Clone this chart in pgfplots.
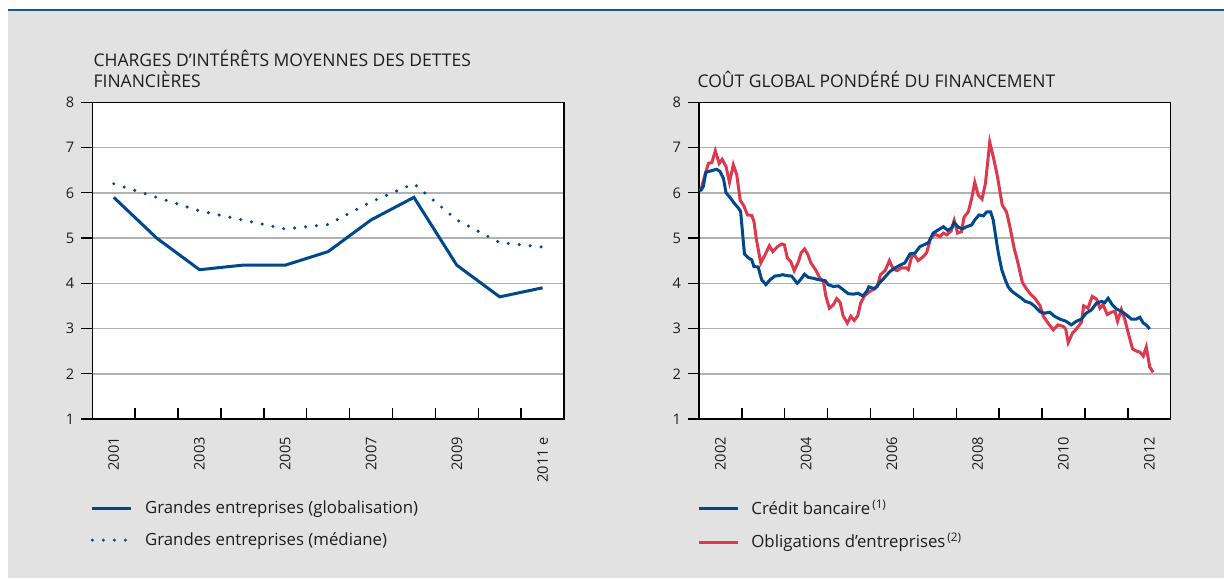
\documentclass[border=0pt]{standalone}
\usepackage{fontspec}
\setmainfont{Open Sans}
\usepackage{pgfplots}
\pgfplotsset{compat=1.18}
\usepackage{pgfplotstable}

\definecolor{bgray}{RGB}{226,226,226}
\definecolor{rulec}{RGB}{28,84,148}
\definecolor{navy}{RGB}{0,72,140}
\definecolor{crim}{RGB}{222,56,76}
\definecolor{gridc}{RGB}{178,178,178}
\definecolor{txt}{RGB}{30,30,30}

\newcommand\tickfont{\fontsize{7.3}{8}\selectfont}
\newcommand\textfnt{\fontsize{8.4}{10}\selectfont}
\newcommand\titlefnt{\fontsize{8.75}{10}\selectfont}

% annual series, left panel
\pgfplotstableread{
year glob med
2001 5.9 6.2
2002 5.0 5.9
2003 4.3 5.6
2004 4.4 5.4
2005 4.4 5.2
2006 4.7 5.3
2007 5.4 5.8
2008 5.9 6.2
2009 4.4 5.4
2010 3.7 4.9
2011 3.9 4.8
}\annual

% monthly-ish series, right panel
\pgfplotstableread{
t v
2002.02 6.05
2002.05 6.06
2002.10 6.14
2002.16 6.45
2002.22 6.47
2002.30 6.49
2002.41 6.52
2002.49 6.47
2002.57 6.32
2002.63 6.00
2002.72 5.90
2002.82 5.77
2002.92 5.66
2002.97 5.59
2003.03 4.96
2003.06 4.65
2003.15 4.56
2003.23 4.52
2003.28 4.37
2003.38 4.36
2003.46 4.08
2003.56 3.97
2003.66 4.08
2003.77 4.16
2003.87 4.17
2003.95 4.19
2004.04 4.17
2004.16 4.16
2004.29 4.00
2004.35 4.06
2004.46 4.20
2004.55 4.13
2004.67 4.11
2004.78 4.08
2004.94 4.06
2005.01 3.97
2005.13 3.93
2005.25 3.94
2005.36 3.86
2005.48 3.77
2005.60 3.76
2005.71 3.78
2005.82 3.72
2005.91 3.82
2005.96 3.92
2006.10 3.88
2006.22 4.02
2006.34 4.14
2006.45 4.26
2006.57 4.34
2006.69 4.40
2006.80 4.45
2006.92 4.65
2007.04 4.67
2007.15 4.81
2007.27 4.86
2007.35 4.90
2007.46 5.11
2007.58 5.18
2007.70 5.25
2007.80 5.17
2007.89 5.22
2007.95 5.34
2008.05 5.24
2008.14 5.20
2008.24 5.25
2008.36 5.29
2008.43 5.40
2008.53 5.51
2008.63 5.49
2008.71 5.58
2008.80 5.58
2008.86 5.40
2008.92 5.03
2008.98 4.67
2009.06 4.30
2009.14 4.08
2009.21 3.92
2009.30 3.82
2009.40 3.75
2009.52 3.67
2009.61 3.60
2009.74 3.56
2009.83 3.49
2009.95 3.37
2010.06 3.34
2010.18 3.36
2010.29 3.27
2010.41 3.21
2010.56 3.16
2010.68 3.08
2010.80 3.16
2010.92 3.21
2011.03 3.34
2011.15 3.41
2011.27 3.56
2011.39 3.60
2011.46 3.57
2011.54 3.67
2011.64 3.52
2011.74 3.43
2011.85 3.38
2011.97 3.30
2012.08 3.21
2012.20 3.21
2012.28 3.25
2012.36 3.12
2012.43 3.08
2012.51 2.99
}\credit

\pgfplotstableread{
t v
2002.02 6.05
2002.05 6.08
2002.14 6.40
2002.22 6.65
2002.30 6.67
2002.38 6.93
2002.47 6.65
2002.54 6.74
2002.63 6.58
2002.71 6.23
2002.80 6.62
2002.88 6.40
2002.96 5.84
2003.05 5.70
2003.13 5.51
2003.23 5.50
2003.28 5.37
2003.34 4.96
2003.44 4.45
2003.54 4.63
2003.64 4.83
2003.72 4.70
2003.83 4.81
2003.93 4.87
2003.99 4.85
2004.06 4.56
2004.14 4.48
2004.22 4.28
2004.32 4.48
2004.38 4.67
2004.46 4.76
2004.53 4.65
2004.61 4.45
2004.73 4.28
2004.82 4.11
2004.90 4.04
2004.96 3.71
2005.04 3.45
2005.13 3.52
2005.21 3.66
2005.29 3.58
2005.36 3.28
2005.46 3.12
2005.54 3.27
2005.62 3.18
2005.70 3.28
2005.77 3.56
2005.85 3.71
2005.95 3.80
2006.06 3.86
2006.16 3.93
2006.23 4.19
2006.34 4.28
2006.44 4.50
2006.53 4.31
2006.62 4.28
2006.72 4.34
2006.83 4.34
2006.88 4.30
2006.96 4.59
2007.02 4.63
2007.11 4.50
2007.23 4.59
2007.31 4.68
2007.40 4.99
2007.50 5.09
2007.62 5.03
2007.70 5.11
2007.78 5.07
2007.88 5.16
2007.95 5.39
2008.03 5.11
2008.12 5.14
2008.18 5.46
2008.28 5.58
2008.36 5.88
2008.43 6.23
2008.51 5.95
2008.60 5.86
2008.68 6.21
2008.78 7.12
2008.87 6.76
2008.96 6.36
2009.07 5.73
2009.17 5.58
2009.25 5.25
2009.35 4.77
2009.44 4.44
2009.54 4.02
2009.64 3.87
2009.74 3.75
2009.83 3.67
2009.95 3.51
2010.03 3.27
2010.14 3.12
2010.26 2.97
2010.37 3.08
2010.49 3.05
2010.55 2.99
2010.61 2.69
2010.71 2.90
2010.80 2.99
2010.92 3.14
2010.97 3.50
2011.07 3.45
2011.17 3.71
2011.27 3.65
2011.35 3.45
2011.42 3.53
2011.52 3.31
2011.62 3.36
2011.70 3.38
2011.76 3.16
2011.85 3.42
2011.93 3.20
2012.01 2.90
2012.11 2.55
2012.20 2.50
2012.28 2.48
2012.36 2.39
2012.43 2.59
2012.51 2.15
2012.59 2.03
}\bonds

\pgfplotsset{
  panel/.style={
    scale only axis, width=235.85pt, height=158.35pt,
    anchor=south west,
    ymin=1, ymax=8, ytick={1,...,8},
    axis background/.style={fill=white},
    axis line style={black, line width=0.75pt},
    tick align=outside, tick pos=left,
    major tick length=5.5pt, minor tick length=5.5pt,
    major x tick style={draw=none},
    minor x tick style={yshift=5.5pt, black, line width=0.7pt},
    major y tick style={black, line width=0.7pt},
    ymajorgrids, major grid style={gridc, line width=0.75pt},
    /pgf/number format/assume math mode=true,
    ticklabel style={font=\tickfont, text=txt},
    xticklabel style={rotate=90, anchor=east},
    legend cell align=left,
    legend style={at={(0,0)}, anchor=north west, xshift=-1pt, yshift=-40.5pt,
      draw=none, fill=none, inner sep=0pt, font=\textfnt, text=txt,
      row sep=8pt, nodes={inner sep=0pt},
      /tikz/every odd column/.style={column sep=6pt}},
    legend image code/.code={\draw[##1] (0pt,0pt) -- (19.5pt,0pt);},
  },
}

\begin{document}
\begin{tikzpicture}
\useasboundingbox (0,0) rectangle (612pt,-289pt);
\fill[white] (0,0) rectangle (612pt,-289pt);
\fill[bgray] (4pt,-5.6pt) rectangle (612pt,-289pt);
\draw[rulec, line width=1.3pt] (4pt,-5pt) -- (612pt,-5pt);

\node[anchor=base west, inner sep=0pt, font=\titlefnt, text=txt] at (46.6pt,-33pt) {CHARGES D’INTÉRÊTS MOYENNES DES DETTES};
\node[anchor=base west, inner sep=0pt, font=\titlefnt, text=txt] at (46.6pt,-43.5pt) {FINANCIÈRES};
\node[anchor=base west, inner sep=0pt, font=\titlefnt, text=txt] at (348.6pt,-43.5pt) {COÛT GLOBAL PONDÉRÉ DU FINANCEMENT};

\begin{axis}[panel, at={(46.15pt,-209.5pt)},
  xmin=2000.5, xmax=2011.5,
  xtick={2001,2003,2005,2007,2009,2011},
  xticklabels={2001,2003,2005,2007,2009,2011 e},
  minor xtick={2001.5,2002.5,2003.5,2004.5,2005.5,2006.5,2007.5,2008.5,2009.5,2010.5},
]
\addplot[navy, line width=1.5pt] table[x=year, y=glob] {\annual};
\addlegendentry{Grandes entreprises (globalisation)}
\addplot[navy, line width=1.7pt, line cap=round, dash pattern=on 0pt off 5.5pt] table[x=year, y=med] {\annual};
\addlegendentry{Grandes entreprises (médiane)}
\end{axis}

\begin{axis}[panel, at={(349.5pt,-209.5pt)},
  xmin=2002, xmax=2013,
  xtick={2002.5,2004.5,2006.5,2008.5,2010.5,2012.5},
  xticklabels={2002,2004,2006,2008,2010,2012},
  minor xtick={2003,2004,2005,2006,2007,2008,2009,2010,2011,2012},
  reverse legend,
]
\addplot[crim, line width=1.5pt] table[x=t, y=v] {\bonds};
\addlegendentry{Obligations d’entreprises\kern1pt\textsuperscript{(2)}}
\addplot[navy, line width=1.5pt] table[x=t, y=v] {\credit};
\addlegendentry{Crédit bancaire\kern1pt\textsuperscript{(1)}}
\end{axis}
\end{tikzpicture}
\end{document}
